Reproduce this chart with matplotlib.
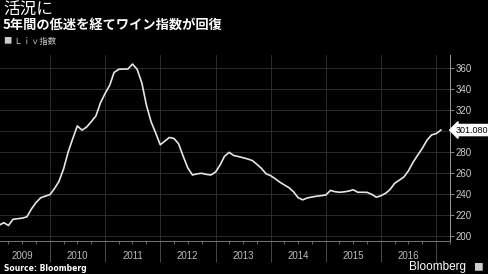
import pandas as pd
import matplotlib
matplotlib.use('Agg')
import matplotlib.pyplot as plt
import matplotlib.dates as mdates
from matplotlib.ticker import FuncFormatter

# Liv-ex index, monthly from Feb 2009
values = [210.5, 212.7, 210.0, 215.9, 216.5, 217.0, 218.3, 226.0, 232.0, 236.5, 238.0,
          239.5, 245.5, 252.0, 264.0, 280.0, 293.0, 305.0, 301.0, 304.0, 309.0, 314.5, 327.0,
          336.0, 344.0, 356.0, 359.0, 359.3, 359.3, 364.0, 359.0, 346.0, 325.0, 309.0, 298.5,
          287.0, 290.6, 294.0, 293.0, 288.0, 276.0, 265.0, 258.2, 259.3, 259.8, 258.8, 258.2,
          261.0, 268.0, 276.0, 279.8, 276.8, 275.8, 274.7, 273.5, 272.0, 268.5, 264.5, 259.4,
          257.5, 254.5, 251.5, 248.7, 246.2, 242.2, 236.6, 234.5, 236.3, 237.2, 237.9, 238.5,
          239.1, 243.5, 242.3, 241.7, 242.1, 242.8, 244.1, 241.7, 241.7, 241.6, 239.7, 237.0,
          238.4, 240.8, 244.3, 250.3, 253.2, 256.3, 262.2, 270.4, 277.3, 283.7, 291.4, 296.4,
          297.7, 301.08]
start_month = '2009-02-01'
y_ticks = [200, 220, 240, 260, 280, 300, 320, 340, 360]
title = '活況に'
subtitle = '5年間の低迷を経てワイン指数が回復'
legend_label = 'Ｌｉｖ指数'
source = 'Source: Bloomberg'

dates = pd.date_range(start_month, periods=len(values), freq='MS')

plt.rcParams['font.family'] = ['Noto Sans CJK JP', 'DejaVu Sans']
num_font = ['Liberation Sans', 'DejaVu Sans']

fig = plt.figure(figsize=(4.88, 2.74), dpi=100, facecolor='black')
ax = fig.add_axes([0.0, 0.1204, 0.9221, 0.679])
ax.set_facecolor('black')

ax.plot(dates, values, color='#e6e6e6', lw=1.2)

ax.set_xlim(pd.Timestamp('2009-02-04'), pd.Timestamp('2017-04-02'))
ax.set_ylim(195.2, 372.7)

# y axis on the right; the label hidden under the last-value tag is left blank
ax.yaxis.tick_right()
ax.set_yticks(y_ticks)
last = values[-1]
ax.yaxis.set_major_formatter(FuncFormatter(
    lambda v, p: '' if abs(v - last) < 6 else f'{v:.0f}'))
ax.tick_params(axis='y', colors='#999999', labelcolor='#cccccc', labelsize=7,
               length=3, width=0.6, pad=1)
for lab in ax.get_yticklabels():
    lab.set_family(num_font)

# x axis: year boundaries + quarter ticks, year label mid-year
ax.xaxis.set_major_locator(mdates.YearLocator())
ax.xaxis.set_major_formatter(FuncFormatter(lambda v, p: ''))
ax.xaxis.set_minor_locator(mdates.MonthLocator([4, 7, 10]))
ax.xaxis.set_minor_formatter(FuncFormatter(
    lambda v, p: str(mdates.num2date(v).year) if mdates.num2date(v).month == 7 else ''))
ax.tick_params(axis='x', which='major', length=15, width=0.6, color='#555555')
ax.tick_params(axis='x', which='minor', length=2, width=0.6, color='#777777',
               labelcolor='#bbbbbb', labelsize=7, pad=5)
for lab in ax.get_xticklabels(minor=True):
    lab.set_family(num_font)

ax.grid(True, which='major', color='#333333', lw=0.6)
for s in ['top', 'left']:
    ax.spines[s].set_visible(False)
ax.spines['right'].set_color('#999999')
ax.spines['bottom'].set_color('#777777')
ax.spines['right'].set_linewidth(0.7)
ax.spines['bottom'].set_linewidth(0.7)

# last value tag
ax.annotate(f'{last:.3f}', xy=(1, last), xycoords=('axes fraction', 'data'),
            xytext=(4, 0), textcoords='offset points', va='center', ha='left',
            fontsize=6.5, color='black', family=num_font,
            bbox=dict(boxstyle='larrow,pad=0.12', fc='white', ec='white'))

fig.text(0.006, 0.995, title, color='white', fontsize=12, va='top', ha='left')
fig.text(0.006, 0.935, subtitle, color='white', fontsize=9.5, va='top', ha='left',
         fontweight='bold')
fig.text(0.008, 0.85, '■ ' + legend_label, color='#cccccc', fontsize=6, va='center', ha='left')
fig.text(0.008, 0.004, source, color='white', fontsize=5.5, fontweight='bold',
         va='bottom', ha='left', family=['DejaVu Sans'])
fig.text(0.955, 0.004, 'Bloomberg', color='white', fontsize=8.5, va='bottom', ha='right',
         family=num_font)
fig.text(0.99, 0.008, '■', color='#cccccc', fontsize=7, va='bottom', ha='right')

fig.savefig('out.png', dpi=100, facecolor='black')
